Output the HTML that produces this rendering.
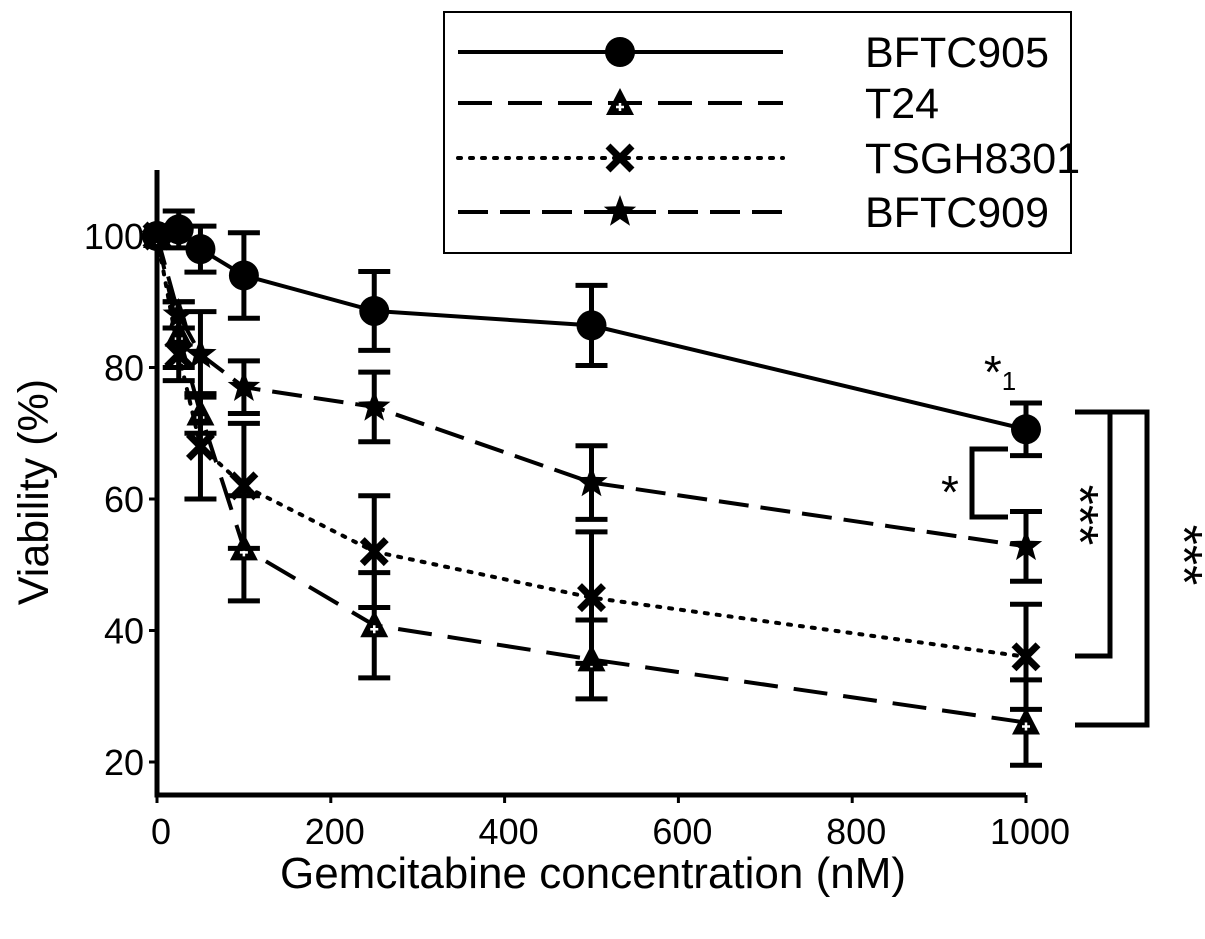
<!DOCTYPE html>
<html><head><meta charset="utf-8"><style>
body{margin:0;background:#fff}
svg text{font-family:"Liberation Sans",Arial,sans-serif;fill:#000}
</style></head><body>
<svg id="chart" width="1205" height="934" viewBox="0 0 1205 934" xmlns="http://www.w3.org/2000/svg">
<g id="axes"></g>
<g id="series"></g>
<g id="annot">
  <path d="M1008 449 H972 V517 H1008" fill="none" stroke="#000" stroke-width="5"/>
  <text x="950" y="508" font-size="46" text-anchor="middle">*</text>
  <text x="1000" y="388" font-size="46" text-anchor="middle">*<tspan font-size="26" dy="2">1</tspan></text>
  <path d="M1075 412 H1147 V725 H1075 M1110 412 V656 H1075" fill="none" stroke="#000" stroke-width="5"/>
  <text transform="translate(1062,515) rotate(90)" font-size="52" text-anchor="middle">***</text>
  <text transform="translate(1166,555) rotate(90)" font-size="52" text-anchor="middle">***</text>
</g>
<g id="legend">
  <rect x="444" y="12" width="627" height="241" fill="#fff" stroke="#000" stroke-width="2"/>
</g>
<text x="593" y="888" font-size="44" text-anchor="middle">Gemcitabine concentration (nM)</text>
<text transform="translate(48,492) rotate(-90)" font-size="43" text-anchor="middle">Viability (%)</text>
</svg>
<script>
const concentrations=[0,25,50,100,250,500,1000];
const seriesNames=["BFTC905","T24","TSGH8301","BFTC909"];
const bftc905=[100,101,98,94,88.6,86.4,70.6];
const bftc905Err=[0,2.8,3.5,6.5,6,6.1,4];
const t24=[100,85,73,52.5,40.8,35.6,26];
const t24Err=[0,5,3,8,8,6,6.5];
const tsgh8301=[100,82,68,62,52,45,36];
const tsgh8301Err=[0,4,8,9.5,8.5,10,8];
const bftc909=[100,88,82,77,74,62.5,52.8];
const bftc909Err=[0,2,6.5,4,5.3,5.6,5.3];
const xTicks=[0,200,400,600,800,1000];
const yTicks=[20,40,60,80,100];

const NS="http://www.w3.org/2000/svg";
const X=v=>157+v*0.869;
const Y=v=>236+(100-v)*6.575;
function mk(tag,attrs,parent){const e=document.createElementNS(NS,tag);for(const k in attrs)e.setAttribute(k,attrs[k]);parent.appendChild(e);return e;}
const axes=document.getElementById('axes');
let e=mk('path',{d:`M157 170 V795 H${X(1000)}`,fill:'none',stroke:'#000','stroke-width':5},axes);


yTicks.forEach(t=>{
  let l=mk('line',{x1:149,x2:157,y1:Y(t),y2:Y(t),stroke:'#000','stroke-width':3},axes);
  
  
  let tx=mk('text',{x:144,y:Y(t)+13,'font-size':36,'text-anchor':'end'},axes);tx.textContent=t;
  
  
});
xTicks.forEach(t=>{
  let l=mk('line',{x1:X(t),x2:X(t),y1:795,y2:803,stroke:'#000','stroke-width':3},axes);
  
  
  let tx=mk('text',{x:X(t)+4,y:844,'font-size':36,'text-anchor':'middle'},axes);tx.textContent=t;
  
  
});
const dashes=["none","34 16","3 9","30 12"];
const vals=[bftc905,t24,tsgh8301,bftc909];
const errs=[bftc905Err,t24Err,tsgh8301Err,bftc909Err];
function marker(type,x,y,g,s){
  let m;
  if(type==0) m=mk('circle',{cx:x,cy:y,r:15*s,fill:'#000'},g);
  else if(type==1){m=mk('g',{},g);mk('path',{d:`M${x} ${y-15*s} L${x+14*s} ${y+12*s} L${x-14*s} ${y+12*s}Z`,fill:'#000'},m);mk('path',{d:`M${x-4} ${y+4} h8 M${x} ${y} v8`,stroke:'#fff','stroke-width':2.5},m);}
  else if(type==2) m=mk('path',{d:`M${x-12*s} ${y-12*s} L${x+12*s} ${y+12*s} M${x+12*s} ${y-12*s} L${x-12*s} ${y+12*s}`,stroke:'#000','stroke-width':7},g);
  else {let p=[];for(let i=0;i<10;i++){const r=(i%2?7:17)*s,a=-Math.PI/2+i*Math.PI/5;p.push((x+r*Math.cos(a)).toFixed(1)+','+(y+r*Math.sin(a)).toFixed(1));}m=mk('polygon',{points:p.join(' '),fill:'#000'},g);}
  return m;
}
const sg=document.getElementById('series');
vals.forEach((v,si)=>{
  const g=mk('g',{},sg);
  
  
  v.forEach((d,i)=>{
    const er=errs[si][i];if(!er)return;
    const x=X(concentrations[i]);
    let b=mk('path',{d:`M${x} ${Y(d+er)} V${Y(d-er)} M${x-16} ${Y(d+er)} h32 M${x-16} ${Y(d-er)} h32`,stroke:'#000','stroke-width':5,fill:'none'},g);
    
    
  });
  const pts=v.map((d,i)=>X(concentrations[i])+','+Y(d)).join(' ');
  let pl=mk('polyline',{points:pts,fill:'none',stroke:'#000','stroke-width':4,'stroke-dasharray':dashes[si],'stroke-linecap':si==2?'round':'butt'},g);
  
  
  v.forEach((d,i)=>{
    let m=marker(si,X(concentrations[i]),Y(d),g,1);
    
    
  });
});
const lg=document.getElementById('legend');
const rows=[52,103,158,212];
seriesNames.forEach((n,i)=>{
  const g=mk('g',{},lg);
  
  
  mk('line',{x1:458,x2:783,y1:rows[i],y2:rows[i],stroke:'#000','stroke-width':4,'stroke-dasharray':dashes[i],'stroke-linecap':i==2?'round':'butt'},g);
  marker(i,620,rows[i],g,1);
  const t=mk('text',{x:865,y:rows[i]+15,'font-size':43},g);t.textContent=n;
});
</script>
</body></html>
